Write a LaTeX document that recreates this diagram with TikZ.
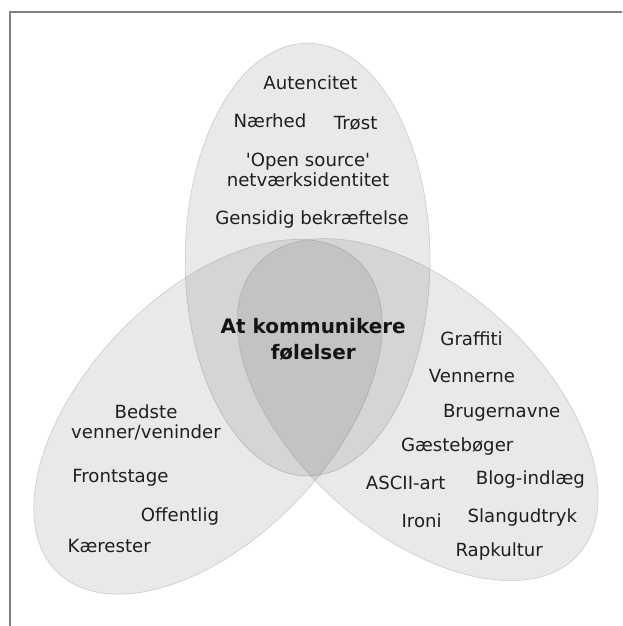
\documentclass[tikz,border=0pt]{standalone}
\usepackage{fontspec}
\setmainfont{DejaVu Sans}
\usepackage{tikz}

\begin{document}
\begin{tikzpicture}[
  venn/.style={fill=black, fill opacity=0.085, draw=black!45, draw opacity=0.35,
               line width=0.5pt},
  lbl/.style={anchor=base, inner sep=0pt, color=black!88,
              font=\fontsize{12.9}{13.5}\selectfont},
  lbltwo/.style={anchor=south, inner sep=0pt, color=black!88, align=center,
                 font=\fontsize{12.9}{14.2}\selectfont},
  midlbl/.style={anchor=south, inner sep=0pt, color=black!92, align=center,
                 font=\fontsize{14.2}{18.5}\selectfont\bfseries},
  frame/.style={draw=black!50, line width=0.05cm}]

\useasboundingbox (0,0) rectangle (15.55,15.65);

% frame
\draw[frame] (0.24,0) -- (0.24,15.34) -- (15.55,15.34);

% ellipses
\draw[venn] (7.69,9.16) ellipse (3.06 and 5.41);
\draw[venn, rotate around={-44:(5.20,5.23)}] (5.20,5.23) ellipse (3.06 and 5.41);
\draw[venn, rotate around={48:(10.44,5.41)}] (10.44,5.41) ellipse (3.06 and 5.41);

% top
\node[lbl] (autencitet) at (7.76,13.40) {Autencitet};
\node[lbl] (naerhed) at (6.75,12.45) {Nærhed};
\node[lbl] (trost) at (8.89,12.40) {Trøst};
\node[lbltwo] (opensource) at (7.70,10.98)
  {\textquotesingle Open source\textquotesingle\\netværksidentitet};
\node[lbl] (gensidig) at (7.80,10.03) {Gensidig bekræftelse};

% middle
\node[midlbl] (foelelser) at (7.83,6.63) {At kommunikere\\følelser};

% left
\node[lbltwo] (bedste) at (3.65,4.65) {Bedste\\venner/veninder};
\node[lbl] (frontstage) at (3.01,3.58) {Frontstage};
\node[lbl] (offentlig) at (4.50,2.60) {Offentlig};
\node[lbl] (kaerester) at (2.73,1.83) {Kærester};

% right
\node[lbl] (graffiti) at (11.79,7.00) {Graffiti};
\node[lbl] (vennerne) at (11.80,6.08) {Vennerne};
\node[lbl] (brugernavne) at (12.54,5.20) {Brugernavne};
\node[lbl] (gaesteboger) at (11.43,4.35) {Gæstebøger};
\node[lbl] (ascii) at (10.14,3.40) {ASCII-art};
\node[lbl] (blog) at (13.26,3.53) {Blog-indlæg};
\node[lbl] (ironi) at (10.54,2.45) {Ironi};
\node[lbl] (slang) at (13.06,2.58) {Slangudtryk};
\node[lbl] (rapkultur) at (12.48,1.73) {Rapkultur};
\end{tikzpicture}
\end{document}
